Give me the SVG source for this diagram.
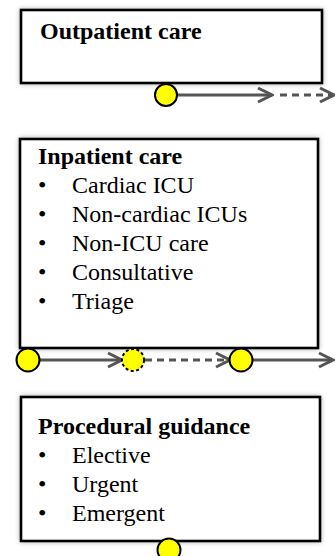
<svg xmlns="http://www.w3.org/2000/svg" width="335" height="556" viewBox="0 0 335 556">
<style>
.box{fill:#fff;stroke:#000;stroke-width:2.6;filter:url(#sh)}
.t{font-family:"Liberation Serif","Times New Roman",serif;font-size:24px;fill:#000}
.b{font-weight:bold}
.ln{stroke:#555;stroke-width:3;fill:none}
.dash{stroke-dasharray:7 5}
.dot{fill:#ffff00;stroke:#000;stroke-width:2}
.dd{stroke-dasharray:3 2.5}
</style>
<defs>
<filter id="sh" x="-10%" y="-20%" width="120%" height="140%">
<feDropShadow dx="0" dy="0" stdDeviation="2.5" flood-color="#000" flood-opacity="0.3"/>
</filter>
<marker id="ch" viewBox="0 0 18 18" refX="16" refY="9" markerWidth="18" markerHeight="18" markerUnits="userSpaceOnUse" orient="auto">
<path d="M2,2 L16,9 L2,16" fill="none" stroke="#555" stroke-width="3"/>
</marker>
</defs>
<g id="outpatient">
<rect class="box" x="21" y="10" width="301" height="73"/>
<text class="t b" x="40" y="39">Outpatient care</text>
</g>
<g id="inpatient">
<rect class="box" x="20" y="139" width="298" height="209"/>
<text class="t b" x="38" y="164">Inpatient care</text>
<text class="t" x="38" y="193">•</text><text class="t" x="72" y="193">Cardiac ICU</text>
<text class="t" x="38" y="222">•</text><text class="t" x="72" y="222">Non-cardiac ICUs</text>
<text class="t" x="38" y="251">•</text><text class="t" x="72" y="251">Non-ICU care</text>
<text class="t" x="38" y="280">•</text><text class="t" x="72" y="280">Consultative</text>
<text class="t" x="38" y="309">•</text><text class="t" x="72" y="309">Triage</text>
</g>
<g id="procedural">
<rect class="box" x="21" y="397" width="299" height="144"/>
<text class="t b" x="38" y="434">Procedural guidance</text>
<text class="t" x="38" y="463">•</text><text class="t" x="72" y="463">Elective</text>
<text class="t" x="38" y="492">•</text><text class="t" x="72" y="492">Urgent</text>
<text class="t" x="38" y="521">•</text><text class="t" x="72" y="521">Emergent</text>
</g>
<g id="connectors">
<line class="ln" x1="177" y1="95" x2="272" y2="95" marker-end="url(#ch)"/>
<line class="ln dash" x1="280" y1="95" x2="334" y2="95" marker-end="url(#ch)"/>
<line class="ln" x1="40" y1="360" x2="122" y2="360" marker-end="url(#ch)"/>
<line class="ln dash" x1="145" y1="360" x2="230" y2="360" marker-end="url(#ch)"/>
<line class="ln" x1="253" y1="360" x2="333" y2="360" marker-end="url(#ch)"/>
</g>
<g id="dots">
<circle class="dot" cx="166" cy="95" r="11"/>
<circle class="dot" cx="28" cy="360" r="11.5"/>
<circle class="dot dd" cx="133" cy="360" r="11"/>
<circle class="dot" cx="241" cy="360" r="11.5"/>
<circle class="dot" cx="169" cy="550" r="11.5"/>
</g>
</svg>
